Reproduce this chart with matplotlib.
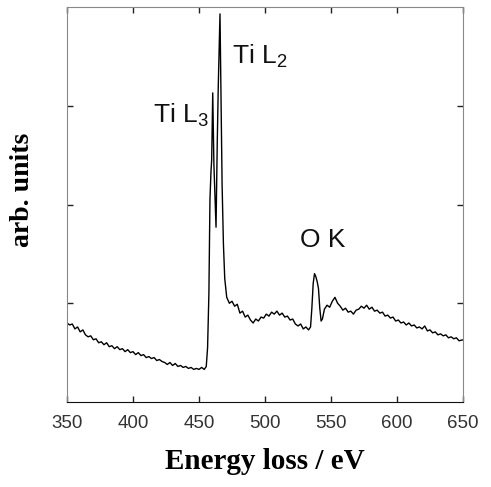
import numpy as np
import matplotlib
matplotlib.use("Agg")
import matplotlib.pyplot as plt

# EELS spectrum (energy loss in eV, intensity in arb. units)
energy = [350, 352, 354, 356, 358, 360, 362, 364, 366, 368, 370, 372, 374, 376, 378,
	380, 382, 384, 386, 388, 390, 392, 394, 396, 398, 400, 402, 404, 406, 408,
	410, 412, 414, 416, 418, 420, 422, 424, 426, 428, 430, 432, 434, 436, 438,
	440, 442, 444, 446, 448, 450, 452, 454, 455.5, 456.5, 457.5, 458.3, 459.1, 459.6, 460.4,
	461.3, 462.9, 463.8, 464.6, 465.9, 466.7, 467.5, 468.5, 469.5, 471, 473, 475, 477, 479, 481,
	483, 485, 487, 489, 491, 493, 495, 497, 499, 501, 503, 505, 507, 509, 511,
	513, 515, 517, 519, 521, 523, 525, 527, 529, 531, 533, 534.5, 535.5, 536.5, 537.5,
	538.5, 539.5, 540.5, 541.5, 542.5, 543.5, 545, 547, 549, 551, 553, 555, 557, 559, 561,
	563, 565, 567, 569, 571, 573, 575, 577, 579, 581, 583, 585, 587, 589, 591,
	593, 595, 597, 599, 601, 603, 605, 607, 609, 611, 613, 615, 617, 619, 621,
	623, 625, 627, 629, 631, 633, 635, 637, 639, 641, 643, 645, 647, 650]
intensity = [0.80, 0.78, 0.79, 0.74, 0.76, 0.71, 0.73, 0.68, 0.66, 0.67, 0.63, 0.64, 0.60, 0.61, 0.58,
	0.60, 0.56, 0.57, 0.54, 0.56, 0.53, 0.54, 0.51, 0.53, 0.50, 0.51, 0.48, 0.50, 0.47, 0.48,
	0.45, 0.46, 0.44, 0.45, 0.42, 0.43, 0.41, 0.40, 0.38, 0.40, 0.37, 0.39, 0.36, 0.37, 0.35,
	0.36, 0.34, 0.35, 0.33, 0.34, 0.33, 0.35, 0.33, 0.36, 0.55, 1.10, 2.05, 2.34, 2.45, 3.13,
	2.40, 1.77, 2.60, 3.20, 3.93, 3.05, 2.20, 1.60, 1.25, 1.06, 1.00, 1.02, 0.97, 0.99, 0.90,
	0.92, 0.86, 0.88, 0.83, 0.80, 0.84, 0.82, 0.86, 0.85, 0.89, 0.87, 0.91, 0.89, 0.92, 0.88,
	0.90, 0.86, 0.87, 0.83, 0.84, 0.79, 0.77, 0.79, 0.74, 0.76, 0.73, 0.76, 0.95, 1.20, 1.30,
	1.27, 1.22, 1.15, 0.95, 0.82, 0.84, 0.94, 0.98, 0.96, 1.02, 1.06, 1.00, 0.97, 0.93, 0.95,
	0.91, 0.92, 0.89, 0.93, 0.94, 0.97, 0.95, 0.98, 0.94, 0.96, 0.92, 0.93, 0.90, 0.91, 0.87,
	0.88, 0.85, 0.86, 0.82, 0.83, 0.80, 0.81, 0.78, 0.80, 0.77, 0.78, 0.75, 0.76, 0.74, 0.77,
	0.72, 0.73, 0.70, 0.71, 0.68, 0.69, 0.67, 0.68, 0.65, 0.66, 0.64, 0.65, 0.62, 0.63]

x_ticks = [350, 400, 450, 500, 550, 600, 650]
y_ticks = [1, 2, 3]

# edge labels: (text, x, y)
edge_labels = [("Ti L$_3$", 415.0, 2.83), ("Ti L$_2$", 475.0, 3.42), ("O K", 526.5, 1.57)]

plt.rcParams['mathtext.fontset'] = 'custom'
plt.rcParams['mathtext.rm'] = 'Liberation Sans'
plt.rcParams['mathtext.it'] = 'Liberation Sans:italic'

fig = plt.figure(figsize=(4.91, 4.87), dpi=100)
ax = fig.add_axes([67/491, 85/487, 396/491, 395/487])

ax.plot(energy, intensity, color='black', lw=1.0)

ax.set_xlim(350, 650)
ax.set_ylim(0, 4)
ax.set_xticks(x_ticks)
ax.set_yticks(y_ticks)
ax.set_yticklabels([])
ax.tick_params(direction='in', length=4, width=1, top=True, right=True, colors='#222222')
ax.tick_params(axis='x', pad=9)
for lab in ax.get_xticklabels():
	lab.set_fontfamily('Liberation Sans')
	lab.set_fontsize(13.5)
	lab.set_color('#333333')

for side in ['left', 'top', 'right']:
	ax.spines[side].set_color('#888888')
ax.spines['bottom'].set_color('#111111')

for text, x, y in edge_labels:
	ax.text(x, y, text, fontfamily='Liberation Sans', fontsize=19, color='#111111', va='baseline')

ax.set_xlabel('Energy loss / eV', fontfamily='Liberation Serif', fontweight='bold', fontsize=21, labelpad=12)
ax.set_ylabel('arb. units', fontfamily='Liberation Serif', fontweight='bold', fontsize=20)
ax.yaxis.set_label_coords(-0.08, 0.537)

fig.savefig('out.png', dpi=100)
